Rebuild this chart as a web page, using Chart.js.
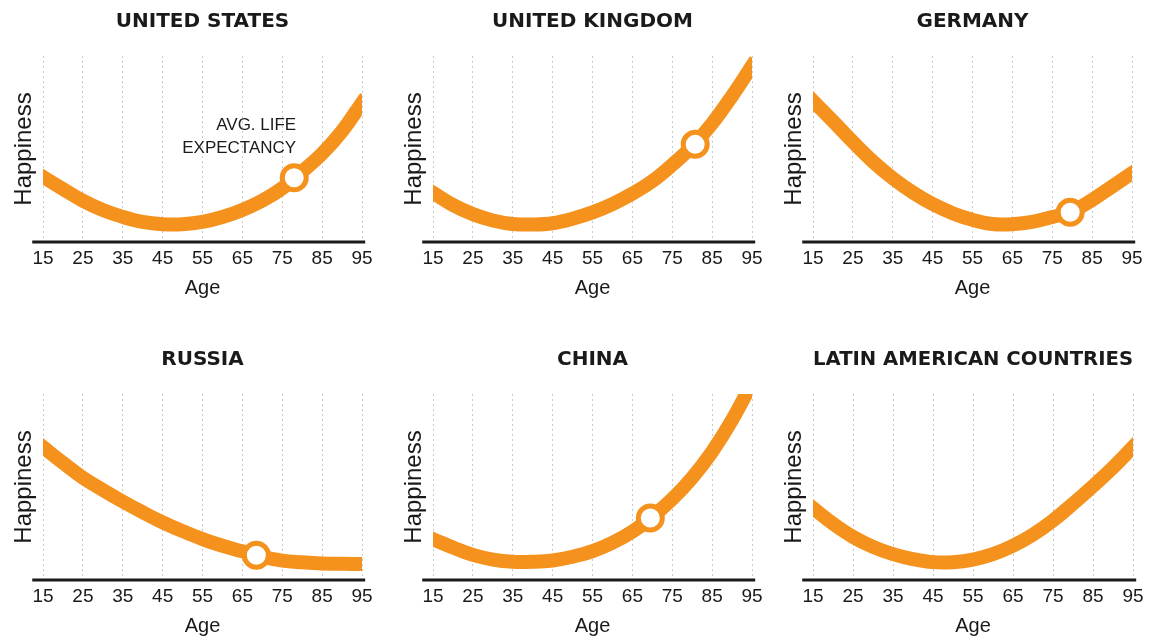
<!DOCTYPE html>
<html>

<head>
    <title>Happiness by Age</title>
    <meta charset="utf-8">
    <script src="https://cdn.jsdelivr.net/npm/chart.js@4.4.1/dist/chart.umd.min.js"></script>
    <style>
        body { margin: 0; background: #fff; width: 1149px; height: 640px; position: relative; overflow: hidden; }
        .panel { position: absolute; width: 379px; height: 320px; }
    </style>
</head>

<body>
    <div class="panel" style="left:0px;top:0px"><canvas id="chart_us"></canvas></div>
    <div class="panel" style="left:390px;top:0px"><canvas id="chart_uk"></canvas></div>
    <div class="panel" style="left:770px;top:0px"><canvas id="chart_de"></canvas></div>
    <div class="panel" style="left:0px;top:338px"><canvas id="chart_ru"></canvas></div>
    <div class="panel" style="left:390px;top:338px"><canvas id="chart_cn"></canvas></div>
    <div class="panel" style="left:770px;top:338px"><canvas id="chart_la"></canvas></div>
</body>
<script>
    // values, happiness on a 0-100 scale, every 5 years of age
    const ages = [15, 20, 25, 30, 35, 40, 45, 50, 55, 60, 65, 70, 75, 80, 85, 90, 95];
    const usValues = [35, 28.5, 22.2, 17.2, 13.5, 10.8, 9.6, 9.6, 10.8, 13.4, 17.2, 22.2, 28.9, 37.9, 47.5, 59.6, 74.9];
    const ukValues = [26.5, 19.9, 15, 11.6, 9.7, 9.4, 10.1, 12.5, 15.9, 20.4, 26, 32.7, 41.5, 51.4, 63.7, 78.5, 94.7];
    const germanyValues = [75.8, 65, 53.8, 43.3, 34.3, 26.7, 20.4, 15.5, 11.9, 9.7, 9.6, 10.8, 13.4, 16.5, 22.6, 29.8, 37];
    const russiaValues = [71.5, 63, 55, 48.4, 42.2, 36.4, 31, 26.3, 22, 18.4, 15.4, 12.5, 10.4, 9.5, 8.9, 8.7, 8.6];
    const chinaValues = [22, 17.5, 13.5, 11, 9.8, 9.8, 10.5, 12.5, 15.5, 20, 26, 34, 43.5, 55, 69, 86, 106];
    const latinValues = [38.7, 30.3, 23.2, 17.8, 13.9, 11.2, 9.6, 9.6, 11, 13.9, 18.4, 24.4, 32, 41, 50.5, 60.5, 71.5];

    const countries = ['UNITED STATES', 'UNITED KINGDOM', 'GERMANY', 'RUSSIA', 'CHINA', 'LATIN AMERICAN COUNTRIES'];
    const seriesValues = [usValues, ukValues, germanyValues, russiaValues, chinaValues, latinValues];
    // avg. life expectancy marker (age, happiness)
    const lifeAges = [78, 80.75, 79.5, 68.5, 69.5, null];
    const lifeHappiness = [34.5, 52.5, 16, 13.3, 33.3, null];
    const canvasIds = ['chart_us', 'chart_uk', 'chart_de', 'chart_ru', 'chart_cn', 'chart_la'];

    const orange = 'rgb(245, 146, 30)';
    const textColor = '#1a1a1a';
    const sans = '"Liberation Sans", Arial, sans-serif';

    // black axis line, a bit wider than the plot
    const baseline = {
        id: 'baseline',
        afterDatasetsDraw(chart) {
            const { ctx, chartArea, scales } = chart;
            ctx.save();
            ctx.strokeStyle = textColor;
            ctx.lineWidth = 3;
            ctx.beginPath();
            ctx.moveTo(scales.x.getPixelForValue(12.3), chartArea.bottom);
            ctx.lineTo(scales.x.getPixelForValue(95.8), chartArea.bottom);
            ctx.stroke();
            ctx.restore();
        }
    };

    // "AVG. LIFE EXPECTANCY" note above the marker
    const lifeNote = {
        id: 'lifeNote',
        afterDatasetsDraw(chart, args, opts) {
            if (!opts.lines) return;
            const pt = chart.getDatasetMeta(1).data[0];
            const ctx = chart.ctx;
            ctx.save();
            ctx.font = '17px ' + sans;
            ctx.fillStyle = textColor;
            ctx.textAlign = 'right';
            ctx.textBaseline = 'middle';
            opts.lines.forEach(function (t, i) { ctx.fillText(t, pt.x + 2, pt.y - 53 + i * 23); });
            ctx.restore();
        }
    };

    function makechart(idx) {
        var datasets = [{
            type: 'line',
            data: ages.map(function (a, i) { return { x: a, y: seriesValues[idx][i] }; }),
            borderColor: orange,
            borderWidth: 14,
            borderCapStyle: 'square',
            tension: 0.4,
            pointRadius: 0,
            fill: false,
            clip: 0,
            order: 1
        }];
        if (lifeAges[idx] !== null) {
            datasets.push({
                type: 'scatter',
                data: [{ x: lifeAges[idx], y: lifeHappiness[idx] }],
                pointRadius: 12,
                pointBorderWidth: 5,
                pointBackgroundColor: '#fff',
                pointBorderColor: orange,
                clip: false,
                order: 0
            });
        }

        return new Chart(canvasIds[idx], {
            type: 'line',
            data: { datasets: datasets },
            plugins: [baseline, lifeNote],
            options: {
                responsive: true,
                maintainAspectRatio: false,
                animation: false,
                events: [],
                layout: { padding: { left: 0, right: 16, top: 0, bottom: 20 } },
                plugins: {
                    legend: { display: false },
                    tooltip: { enabled: false },
                    title: {
                        display: true,
                        text: countries[idx],
                        fullSize: false,
                        color: textColor,
                        font: { family: '"DejaVu Sans", sans-serif', size: 20, weight: 'bold' },
                        padding: { top: 10, bottom: 22 }
                    },
                    lifeNote: idx === 0 ? { lines: ['AVG. LIFE', 'EXPECTANCY'] } : {}
                },
                scales: {
                    x: {
                        type: 'linear',
                        min: 15,
                        max: 95,
                        ticks: { stepSize: 10, padding: 5, color: textColor, font: { family: sans, size: 19 } },
                        grid: { color: '#c8c8c8', lineWidth: 1, drawTicks: false },
                        border: { display: false, dash: [2, 3] },
                        title: { display: true, text: 'Age', color: textColor, font: { family: sans, size: 20 }, padding: { top: 0, bottom: 0 } },
                        afterFit: function (s) { s.height = 58; }
                    },
                    y: {
                        min: 0,
                        max: 100,
                        ticks: { display: false },
                        grid: { display: false },
                        border: { display: false },
                        title: { display: true, text: 'Happiness', color: textColor, font: { family: sans, size: 24 }, padding: { top: 10, bottom: 0 } },
                        afterFit: function (s) { s.width = 43; }
                    }
                }
            }
        });
    }

    const charts = countries.map(function (c, i) { return makechart(i); });
</script>
</html>
